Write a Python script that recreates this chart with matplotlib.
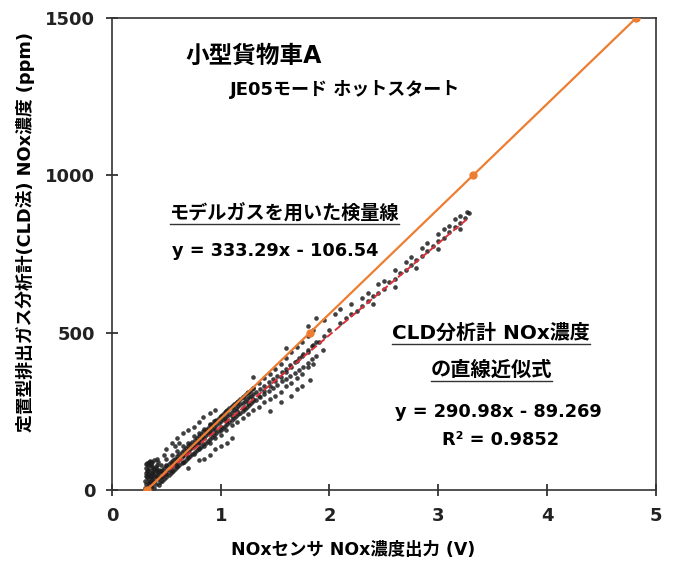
import matplotlib
matplotlib.use("Agg")
import matplotlib.pyplot as plt
from matplotlib.lines import Line2D

plt.rcParams['font.family'] = ['DejaVu Sans', 'Noto Sans CJK JP']

# 計測データ (CLD vs NOxセンサ) - 図から読み取り
pts_x = [
    0.30, 0.31, 0.31, 0.32, 0.32, 0.33, 0.33, 0.34, 0.34, 0.35, 0.35, 0.36, 0.36,
    0.37, 0.37, 0.38, 0.38, 0.39, 0.39, 0.40, 0.40, 0.41, 0.42, 0.42, 0.30, 0.31,
    0.32, 0.33, 0.34, 0.35, 0.36, 0.37, 0.38, 0.39, 0.40, 0.41, 0.42, 0.43,
    0.45, 0.45, 0.45, 0.50, 0.50, 0.50, 0.55, 0.55, 0.55, 0.60, 0.60, 0.60,
    0.65, 0.65, 0.65, 0.70, 0.70, 0.70, 0.75, 0.75, 0.75, 0.80, 0.80, 0.80,
    0.85, 0.85, 0.85, 0.90, 0.90, 0.90, 0.95, 0.95, 0.95, 1.00, 1.00, 1.00,
    0.55, 0.60, 0.65, 0.70, 0.75, 0.80, 0.84, 0.50, 0.58, 0.90, 0.95, 0.48, 0.62,
    0.70, 0.80, 0.90, 1.00, 1.06, 1.10, 0.85, 0.95,
    1.05, 1.05, 1.05, 1.10, 1.10, 1.10, 1.15, 1.15, 1.15, 1.20, 1.20, 1.20,
    1.25, 1.25, 1.25, 1.30, 1.30, 1.30, 1.35, 1.35, 1.35, 1.40, 1.40, 1.40,
    1.45, 1.45, 1.45, 1.50, 1.50, 1.50, 1.55, 1.55, 1.55, 1.60, 1.60, 1.60,
    1.65, 1.65, 1.65, 1.70, 1.70, 1.70, 1.75, 1.75, 1.75, 1.80, 1.80, 1.80,
    1.85, 1.85, 1.85,
    1.30, 1.45, 1.55, 1.65, 1.70, 1.75, 1.60, 1.80, 1.90, 1.95, 2.00, 1.95,
    2.05, 2.10, 1.88, 1.82, 1.94,
    2.10, 2.15, 2.20, 2.25, 2.30, 2.35, 2.40, 2.45, 2.50, 2.55, 2.60, 2.65,
    2.70, 2.75, 2.80, 2.85, 2.90, 2.95, 3.00, 3.05, 3.10, 3.15, 3.20, 3.25, 3.28,
    2.20, 2.35, 2.50, 2.60, 2.75, 2.90, 3.00, 3.10, 3.20, 3.26, 2.30, 2.45,
    2.70, 2.85, 3.05, 3.15,
    2.40, 2.60, 2.80, 3.00, 3.20,
    0.31, 0.32, 0.33, 0.34, 0.35, 0.36, 0.37, 0.38, 0.39, 0.40, 0.41, 0.43,
    0.31, 0.33, 0.35, 0.37, 0.39, 0.41,
]
pts_y = [
    5, 20, 45, 60, 10, 35, 75, 50, 90, 25, 65, 40, 85,
    15, 55, 30, 70, 45, 95, 20, 60, 80, 35, 55, 30, 70,
    85, 5, 25, 45, 10, 75, 50, 5, 40, 65, 90, 15,
    40, 60, 80, 50, 75, 100, 60, 85, 110, 75, 100, 125,
    90, 110, 140, 105, 125, 150, 115, 140, 170, 130, 150, 180,
    140, 165, 195, 150, 180, 210, 165, 190, 220, 175, 200, 235,
    150, 165, 180, 190, 200, 215, 232, 130, 140, 245, 255, 110, 150,
    70, 95, 110, 140, 150, 165, 100, 130,
    190, 220, 250, 205, 235, 265, 215, 250, 280, 230, 260, 295,
    240, 275, 310, 255, 290, 325, 265, 300, 340, 280, 315, 355,
    290, 330, 370, 300, 345, 385, 310, 360, 400, 330, 375, 420,
    340, 390, 440, 355, 410, 455, 370, 425, 470, 390, 440, 490,
    400, 460, 510,
    360, 250, 280, 300, 320, 330, 450, 520, 470, 490, 510, 540,
    560, 575, 545, 350, 445,
    530, 545, 560, 570, 585, 600, 615, 625, 640, 660, 670, 690,
    700, 715, 730, 745, 760, 775, 790, 800, 820, 835, 850, 865, 880,
    590, 625, 665, 700, 740, 785, 815, 840, 870, 885, 610, 655,
    725, 770, 830, 860,
    590, 645, 705, 765, 830,
    55, 40, 62, 18, 78, 30, 88, 58, 28, 72, 48, 62,
    82, 52, 92, 38, 68, 98,
]

# 密集帯 (x 0.44-1.30)
band_x = [0.44, 0.46, 0.48, 0.50, 0.52, 0.54, 0.56, 0.58, 0.60, 0.62, 0.64,
          0.66, 0.68, 0.70, 0.72, 0.74, 0.76, 0.78, 0.80, 0.82, 0.84, 0.86,
          0.88, 0.90, 0.92, 0.94, 0.96, 0.98, 1.00, 1.02, 1.04, 1.06, 1.08,
          1.10, 1.12, 1.14, 1.16, 1.18, 1.20, 1.22, 1.24, 1.26, 1.28, 1.30]
band_hi = [58, 62, 70, 78, 82, 90, 96, 100, 108, 115, 120, 126, 135, 140, 146,
           152, 160, 165, 172, 178, 186, 190, 198, 205, 210, 218, 222, 230, 236,
           240, 248, 255, 260, 266, 272, 278, 284, 290, 296, 302, 308, 312, 318, 325]
band_mid = [40, 45, 52, 58, 64, 72, 78, 84, 90, 98, 104, 110, 118, 124, 130,
            136, 144, 150, 156, 162, 168, 176, 182, 188, 195, 200, 206, 212, 218,
            224, 230, 236, 242, 248, 254, 260, 266, 272, 278, 284, 290, 296, 300, 306]
band_lo = [25, 30, 36, 42, 48, 55, 60, 66, 72, 78, 85, 90, 96, 102, 108,
           115, 120, 126, 132, 138, 145, 150, 156, 162, 168, 174, 180, 186, 192,
           198, 204, 210, 216, 222, 228, 234, 240, 246, 252, 258, 264, 270, 276, 282]

# 密集帯 (x 1.32-1.88)
band2_x = [1.32, 1.36, 1.40, 1.44, 1.48, 1.52, 1.56, 1.60, 1.64, 1.68, 1.72,
           1.76, 1.80, 1.84, 1.88]
band2_hi = [310, 320, 332, 342, 352, 362, 374, 384, 396, 408, 420, 432, 445, 458, 470]
band2_lo = [285, 295, 305, 315, 325, 335, 345, 352, 362, 372, 380, 392, 402, 415, 425]

# モデルガス検量線 (y = 333.29x - 106.54)
cal_x = [0.32, 1.82, 3.32, 4.82]
cal_y = [0, 500, 1000, 1500]

# CLD直線近似式 (y = 290.98x - 89.269)
fit_slope = 290.98
fit_icpt = -89.269
fit_x = [0.31, 3.28]
fit_y = [fit_slope * v + fit_icpt for v in fit_x]

fig = plt.figure(figsize=(6.76, 5.63), dpi=100)
ax = fig.add_axes([0.1657, 0.1297, 0.8043, 0.8383])

dot = dict(s=11, color='#1e1e1e', alpha=0.85, linewidths=0, zorder=2)
ax.scatter(pts_x, pts_y, **dot)
for ys in (band_hi, band_mid, band_lo):
    ax.scatter(band_x, ys, **dot)
for ys in (band2_hi, band2_lo):
    ax.scatter(band2_x, ys, **dot)
ax.plot(fit_x, fit_y, color='#e0303a', linestyle='--', linewidth=1.4, zorder=3)
ax.plot(cal_x, cal_y, color='#ed7d31', linewidth=1.6, marker='o', markersize=5, zorder=4)

ax.set_xlim(0, 5)
ax.set_ylim(0, 1500)
ax.set_xticks([0, 1, 2, 3, 4, 5])
ax.set_yticks([0, 500, 1000, 1500])
ax.tick_params(direction='inout', length=8, width=1.2, labelsize=13, colors='#222222', pad=8)
for lab in ax.get_xticklabels() + ax.get_yticklabels():
    lab.set_fontweight('bold')
for sp in ax.spines.values():
    sp.set_linewidth(1.2)
    sp.set_color('#333333')

ax.set_xlabel('NOxセンサ NOx濃度出力 (V)', fontsize=12.5, fontweight='bold')
ax.xaxis.set_label_coords(0.443, -0.108)
ax.set_ylabel('定置型排出ガス分析計(CLD法) NOx濃度 (ppm)', fontsize=12.8,
              fontweight='bold')
ax.yaxis.set_label_coords(-0.142, 0.547)

tk = dict(fontweight='bold', va='center')
ax.text(0.671, 1379, '小型貨物車A', fontsize=17, **tk)
ax.text(1.085, 1274, 'JE05モード ホットスタート', fontsize=13, **tk)
t1 = ax.text(0.533, 880, 'モデルガスを用いた検量線', fontsize=13.8, **tk)
ax.text(0.551, 759, 'y = 333.29x - 106.54', fontsize=12.8, **tk)
t2 = ax.text(3.488, 499, 'CLD分析計 NOx濃度', fontsize=14.4, ha='center', **tk)
t3 = ax.text(3.488, 381, 'の直線近似式', fontsize=14.6, ha='center', **tk)
ax.text(3.557, 248, 'y = 290.98x - 89.269', fontsize=12.8, ha='center', **tk)
ax.text(3.575, 159, 'R² = 0.9852', fontsize=12.8, ha='center', **tk)

# 下線を描く
fig.canvas.draw()
rend = fig.canvas.get_renderer()
for t in (t1, t2, t3):
    bb = t.get_window_extent(rend).transformed(fig.transFigure.inverted())
    yline = bb.y0 - 0.003
    fig.add_artist(Line2D([bb.x0, bb.x1], [yline, yline], color='#333333', linewidth=1.0))

fig.savefig('out.png', dpi=100)
